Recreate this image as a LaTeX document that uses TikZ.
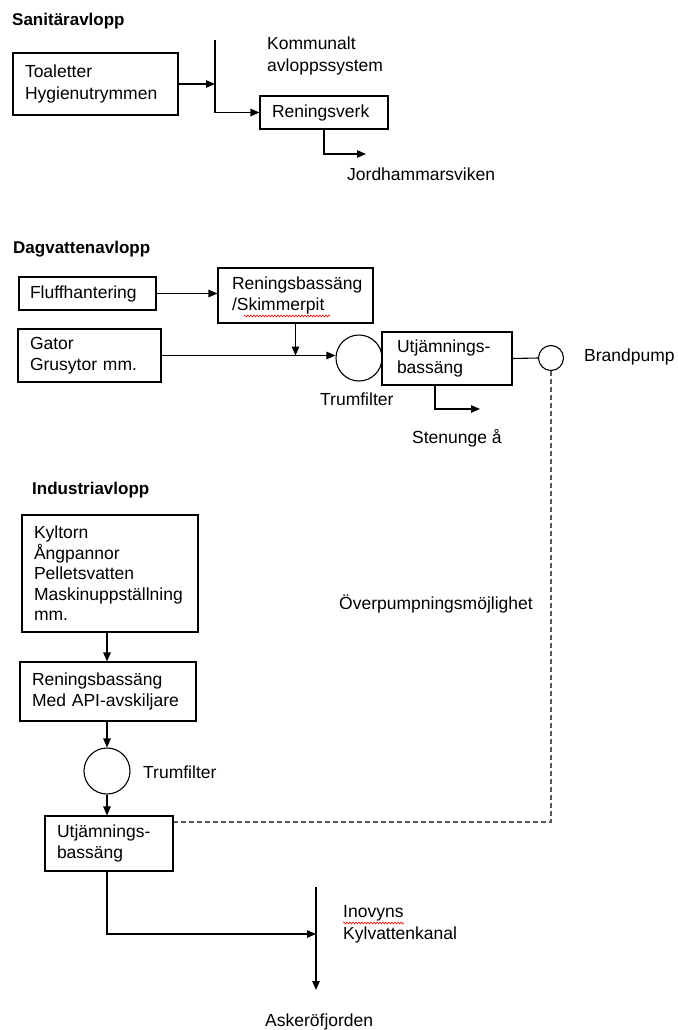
\documentclass[tikz,border=0pt]{standalone}
\usepackage{fontspec}
\setmainfont{Liberation Sans}
\usetikzlibrary{arrows.meta,decorations.pathmorphing,calc}
\begin{document}
\begin{tikzpicture}[x=1pt,y=-1pt,
  every node/.style={font=\fontsize{17.5}{21.5}\selectfont},
  box/.style={draw, line width=1.1pt, align=left, inner ysep=0pt, inner xsep=12pt},
  lbl/.style={anchor=west, inner sep=0pt, align=left},
  head/.style={anchor=west, inner sep=0pt, font=\fontsize{17}{20}\selectfont\bfseries},
  flow/.style={line width=1.1pt, -{Triangle[length=9pt,width=7.5pt]}},
  pipe/.style={line width=1.1pt},
  valve/.style={draw, circle, line width=1.1pt, inner sep=0pt},
  dashline/.style={line width=1.1pt, black!65, dash pattern=on 5pt off 3pt},
  squiggle/.style={red, line width=0.6pt, decorate, decoration={snake, amplitude=0.9pt, segment length=3pt}}
]
\useasboundingbox (0,0) rectangle (677,1030);

% ---------- Sanitäravlopp ----------
\node[head] (h1) at (12,21) {Sanitäravlopp};
\node[box, text width=141pt, minimum height=62pt] (toa) at (95.5,84) {Toaletter\\Hygienutrymmen};
\node[box, text width=104pt, minimum height=33pt] (ren1) at (324,112.5) {Reningsverk};
\node[lbl] (komm) at (267,56) {Kommunalt\\avloppssystem};
\node[lbl] (jord) at (347,174) {Jordhammarsviken};
\coordinate (k1) at (215,40);
\coordinate (j1) at (366,154);
\draw[flow] (toa.east) -- (toa.east -| k1);
\draw[flow] (k1) |- (ren1.west);
\draw[flow] (ren1.south) |- (j1);

% ---------- Dagvattenavlopp ----------
\node[head] (h2) at (13,249) {Dagvattenavlopp};
\node[box, inner xsep=11pt, text width=115pt, minimum height=33pt] (fluff) at (87.5,293.5) {Fluffhantering};
\node[box, inner xsep=14pt, text width=127pt, minimum height=55pt] (ren2) at (295.5,295.5) {Reningsbassäng\\/Skimmerpit};
\node[box, text width=119pt, minimum height=53pt] (gator) at (89.5,355.5) {Gator\\Grusytor mm.};
\node[valve, minimum size=46pt] (tf1) at (359,358) {};
\node[box, inner xsep=15pt, text width=100pt, minimum height=53pt] (utj1) at (447,358.5) {Utjämnings-\\bassäng};
\node[valve, minimum size=25pt] (bp) at (551,358) {};
\node[lbl] (tf1l) at (320,399) {Trumfilter};
\node[lbl] (sten) at (412,438) {Stenunge å};
\node[lbl] (bpl) at (584,357) {Brandpump};
\coordinate (b1) at (435,409);
\coordinate (s1) at (480,409);
\draw[flow] (fluff.east) -- (fluff.east -| ren2.west);
\draw[flow] (gator.east) -- (gator.east -| tf1.west);
\draw[flow] (ren2.south) -- (ren2.south |- gator.east);
\draw[pipe] (utj1.east) -- (bp.west);
\draw[flow] (utj1.south -| b1) -- (b1) -- (s1);
\draw[squiggle] (244,316) -- (330,316);

% ---------- Industriavlopp ----------
\node[head] (h3) at (32,490) {Industriavlopp};
\node[box, text width=152pt, minimum height=117pt, font=\fontsize{17.5}{20.5}\selectfont] (kyl) at (110,573.5) {Kyltorn\\Ångpannor\\Pelletsvatten\\Maskinuppställning\\mm.};
\node[box, text width=152pt, minimum height=59pt] (ren3) at (108,691.5) {Reningsbassäng\\Med API-avskiljare};
\node[valve, minimum size=46pt] (tf2) at (107,771) {};
\node[lbl] (tf2l) at (143,772) {Trumfilter};
\node[box, text width=104pt, minimum height=55pt] (utj2) at (109,843.5) {Utjämnings-\\bassäng};
\node[lbl] (over) at (339,604) {Överpumpningsmöjlighet};
\node[lbl] (kanal) at (343,924.5) {Inovyns\\Kylvattenkanal};
\node[lbl] (asker) at (265,1022) {Askeröfjorden};
\coordinate (c1) at (316,887);
\coordinate (c2) at (316,990);
\coordinate (c3) at (316,934);
\coordinate (d1) at (551,822);
\draw[flow] (kyl.south -| tf2) -- (ren3.north -| tf2);
\draw[flow] (ren3.south -| tf2) -- (tf2.north);
\draw[flow] (tf2.south) -- (tf2.south |- utj2.north);
\draw[flow] (utj2.south -| tf2) |- (c3);
\draw[flow] (c1) -- (c2);
\draw[dashline] (bp.south) -- (d1) -- (d1 -| utj2.east);
\draw[squiggle] (343,923) -- (404,923);
\end{tikzpicture}
\end{document}
